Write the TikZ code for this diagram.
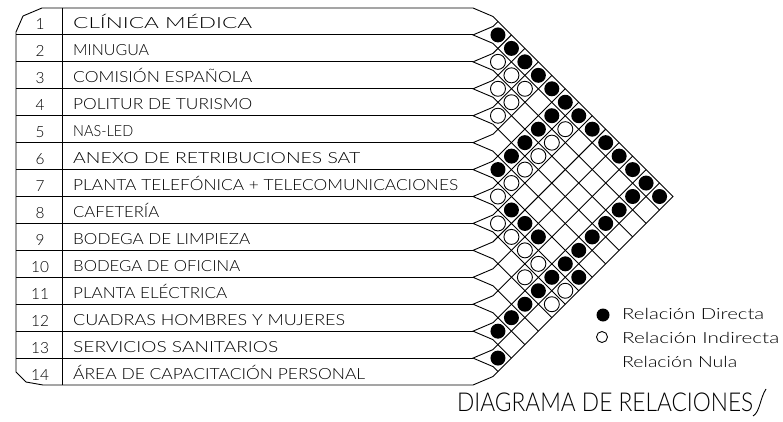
\documentclass[tikz,border=0pt]{standalone}
\usepackage{fontspec}
\setmainfont{Lato Light}
\usepackage{graphicx}
\begin{document}
\begin{tikzpicture}[x=1pt,y=-1pt,
  gridline/.style={line width=0.9pt,black},
  lbl/.style={anchor=base west,inner sep=0pt,font=\fontsize{15.4}{16}\selectfont},
  num/.style={anchor=base,inner sep=0pt,font=\fontsize{15.4}{16}\selectfont},
  dirc/.style={fill=black},
  indc/.style={draw=black,fill=white,line width=0.9pt}]
\useasboundingbox (0,0) rectangle (783,422);
\def\p{26.93}
\def\xz{484.5}
% outline
\draw[gridline] (16,32) -- (23,16) -- (42,8) -- (473,8) -- (493,16.5) -- (673,196.5) -- (493,376.5) -- (473,385) -- (43,385) -- (26,382) -- (16,372) -- cycle;
\draw[gridline] (62,8) -- (62,385);
\foreach \k in {1,...,13} {
  \pgfmathsetmacro\ys{8+\k*\p}
  \pgfmathsetmacro\ua{\xz+\k*\p/2}
  \pgfmathsetmacro\ub{\ys-\k*\p/2}
  \pgfmathsetmacro\da{\xz+(14-\k)*\p/2}
  \pgfmathsetmacro\db{\ys+(14-\k)*\p/2}
  \draw[gridline] (16,\ys) -- (473,\ys);
  \draw[gridline] (\ua,\ub) -- (493,{\ys-8.5}) -- (473,\ys) -- (493,{\ys+8.5}) -- (\da,\db);
}
% row labels
\foreach \i/\w/\t in {1/179/{CLÍNICA MÉDICA},2/76/{MINUGUA},3/179/{COMISIÓN ESPAÑOLA},4/179/{POLITUR DE TURISMO},5/60/{NAS-LED},6/287/{ANEXO DE RETRIBUCIONES SAT},7/385/{PLANTA TELEFÓNICA + TELECOMUNICACIONES},8/86/{CAFETERÍA},9/177/{BODEGA DE LIMPIEZA},10/167/{BODEGA DE OFICINA},11/154/{PLANTA ELÉCTRICA},12/272/{CUADRAS HOMBRES Y MUJERES},13/205/{SERVICIOS SANITARIOS},14/292/{ÁREA DE CAPACITACIÓN PERSONAL}} {
  \node[lbl] (t\i) at (73,{8+\i*\p-6}) {\resizebox{\w pt}{\height}{\t}};
  \node[num] (n\i) at (40,{8+\i*\p-5}) {\i};
}
% relations
\foreach \i/\j in {1/2,1/3,1/4,1/5,1/6,1/7,1/8,1/9,1/10,1/11,1/12,1/13,1/14,
  2/7,3/7,4/7,5/7,6/7,
  2/13,3/13,4/13,5/13,6/13,7/13,8/13,9/13,10/13,11/13,12/13,
  7/9,7/10,7/11,7/14,13/14} {
  \fill[dirc] ({\xz+(\j-\i)*\p/2},{8+(\i+\j-1)*\p/2}) circle (7.5);
}
\foreach \i/\j in {2/3,2/4,2/5,2/8,3/4,3/5,3/8,4/5,4/8,5/8,6/8,7/8,
  8/9,8/10,8/11,8/12,8/14,9/12,9/14} {
  \draw[indc] ({\xz+(\j-\i)*\p/2},{8+(\i+\j-1)*\p/2}) circle (7.5);
}
% legend
\fill[dirc] (603,315) circle (6.5);
\draw[indc] (602,337) circle (5.5);
\node[lbl] (l1) at (622,319) {\resizebox{142pt}{\height}{Relación Directa}};
\node[lbl] (l2) at (622,343) {\resizebox{157pt}{\height}{Relación Indirecta}};
\node[lbl] (l3) at (622,367) {\resizebox{115pt}{\height}{Relación Nula}};
% title
\node[anchor=base west,inner sep=0pt,font=\fontsize{26}{28}\selectfont] (title) at (457,411) {\resizebox{296pt}{\height}{DIAGRAMA DE RELACIONES}};
\draw[gridline] (753,416) .. controls (760,412) and (760,398) .. (766,389);
\end{tikzpicture}
\end{document}
